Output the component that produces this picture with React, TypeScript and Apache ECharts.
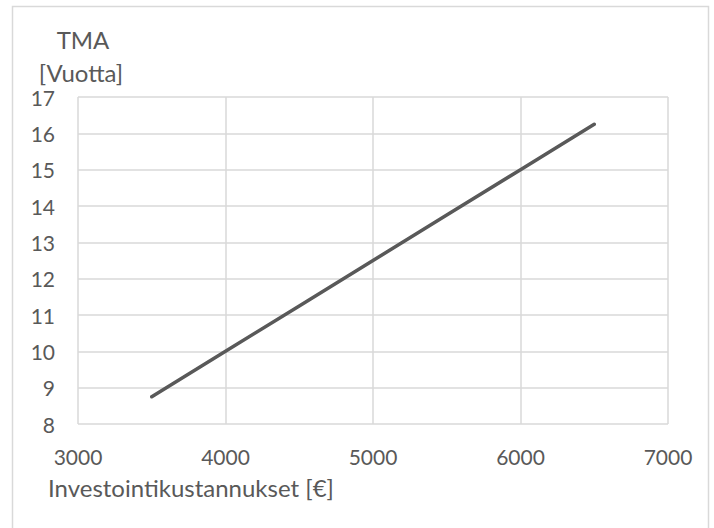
import React, { useEffect, useRef } from "react";
import * as echarts from "echarts";

// Investment cost (€) vs payback time (years)
const costs = [3500, 4000, 4500, 5000, 5500, 6000, 6500];
const paybackYears = [8.75, 10, 11.25, 12.5, 13.75, 15, 16.25];

const xTitle = "Investointikustannukset [€]";
const yTitleLines = ["TMA", "[Vuotta]"];

const TEXT = "#595959";
const GRID = "#d9d9d9";
const FONT = "Lato, 'Open Sans', sans-serif";

export default function App() {
  const ref = useRef<HTMLDivElement>(null);

  useEffect(() => {
    if (!ref.current) return;
    const chart = echarts.init(ref.current, undefined, { renderer: "svg" });
    chart.setOption({
      animation: false,
      backgroundColor: "#ffffff",
      textStyle: { fontFamily: FONT, color: TEXT },
      grid: { left: 78, right: 46, top: 97, bottom: 104, containLabel: false },
      xAxis: {
        type: "value",
        min: 3000,
        max: 7000,
        interval: 1000,
        axisLine: { show: false },
        axisTick: { show: false },
        axisLabel: {
          color: TEXT,
          fontSize: 21,
          fontFamily: FONT,
          margin: 22,
          formatter: (v: number) => String(v),
        },
        splitLine: { show: true, lineStyle: { color: GRID, width: 1.5 } },
      },
      yAxis: {
        type: "value",
        min: 8,
        max: 17,
        interval: 1,
        axisLine: { show: false },
        axisTick: { show: false },
        axisLabel: {
          color: TEXT,
          fontSize: 21,
          fontFamily: FONT,
          margin: 23,
          formatter: (v: number) => String(v),
        },
        splitLine: { show: true, lineStyle: { color: GRID, width: 1.5 } },
      },
      graphic: [
        {
          type: "rect",
          silent: true,
          shape: { x: 12.5, y: 6.5, width: 696, height: 540 },
          style: { fill: "none", stroke: GRID, lineWidth: 1.5 },
        },
        {
          type: "text",
          x: 83,
          y: 39,
          style: {
            text: yTitleLines[0],
            fill: TEXT,
            font: `24px ${FONT}`,
            textAlign: "center",
            textVerticalAlign: "middle",
          },
        },
        {
          type: "text",
          x: 81,
          y: 72,
          style: {
            text: yTitleLines[1],
            fill: TEXT,
            font: `24px ${FONT}`,
            textAlign: "center",
            textVerticalAlign: "middle",
          },
        },
        {
          type: "text",
          x: 48,
          y: 487,
          style: {
            text: xTitle,
            fill: TEXT,
            font: `24px ${FONT}`,
            textAlign: "left",
            textVerticalAlign: "middle",
          },
        },
      ],
      series: [
        {
          type: "line",
          data: costs.map((c, i) => [c, paybackYears[i]]),
          showSymbol: false,
          symbol: "none",
          lineStyle: { color: "#595959", width: 3.5, cap: "round" },
        },
      ],
    });
    return () => chart.dispose();
  }, []);

  return <div ref={ref} style={{ width: 714, height: 528, position: "absolute", left: 0, top: 0 }} />;
}
